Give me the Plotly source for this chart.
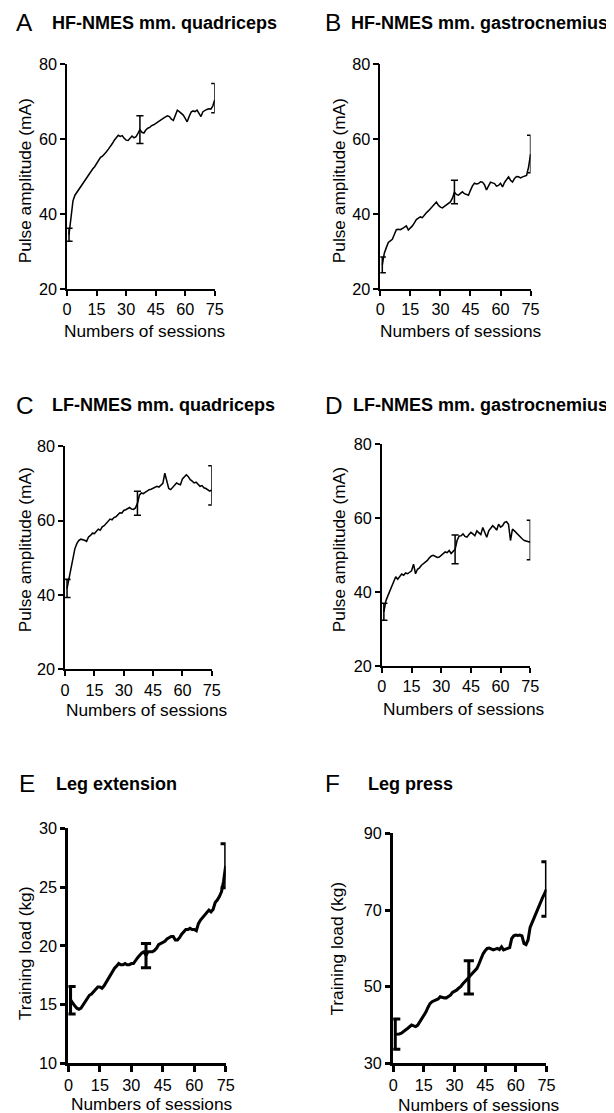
import plotly.graph_objects as go

# ---------------- data ----------------
sessions = list(range(1, 76))
x_tickvals = [0, 15, 30, 45, 60, 75]
pulse_ticks = [20, 40, 60, 80]
ext_ticks = [10, 15, 20, 25, 30]
press_ticks = [30, 50, 70, 90]
err_sessions = [1, 37, 75]

hf_quad = [34.5, 39.5, 43.5, 45.0, 45.8, 46.5, 47.3, 48.0, 48.7, 49.8,
           50.6, 51.2, 52.0, 52.6, 53.4, 54.5, 55.1, 55.4, 55.9, 56.6,
           57.3, 57.9, 58.8, 59.7, 60.4, 61.0, 60.7, 60.9, 60.2, 59.7,
           59.6, 60.1, 60.8, 60.3, 60.6, 61.5, 62.5, 61.8, 61.6, 62.4,
           62.9, 63.1, 63.6, 63.8, 64.2, 64.4, 64.9, 65.4, 65.6, 65.9,
           66.2, 66.0, 65.3, 65.0, 66.6, 67.7, 67.3, 66.8, 66.4, 65.5,
           64.6, 66.0, 67.2, 67.5, 67.3, 67.7, 66.8, 66.0, 67.3, 67.7,
           67.9, 68.1, 68.0, 68.8, 70.5]
hf_quad_plus = [1.7, 3.7, 4.3]
hf_quad_minus = [1.8, 3.7, 3.5]

hf_gast = [26.4, 29.5, 31.0, 32.4, 32.8, 33.2, 34.5, 35.8, 35.9, 35.8,
           36.1, 36.5, 36.8, 35.7, 36.2, 36.8, 37.6, 38.5, 38.9, 39.2,
           39.0, 39.8, 40.3, 40.8, 41.4, 42.1, 42.8, 43.2, 42.3, 41.8,
           41.6, 42.0, 42.3, 42.8, 43.2, 44.2, 45.8, 45.2, 45.0, 45.5,
           45.9, 45.4, 45.2, 45.0, 46.3, 47.5, 48.2, 48.0, 48.1, 48.6,
           48.5, 47.8, 46.4, 47.5, 48.5, 48.3, 48.1, 47.4, 47.6, 48.2,
           47.2, 48.4, 49.3, 49.9, 49.0, 48.5, 49.5, 50.0, 49.9, 49.6,
           49.9, 50.1, 50.3, 52.5, 56.0]
hf_gast_plus = [2.1, 3.2, 5.0]
hf_gast_minus = [2.1, 3.1, 5.0]

lf_quad = [41.7, 44.5, 47.0, 50.0, 52.4, 53.8, 54.6, 55.0, 54.9, 54.7,
           54.4, 55.6, 56.0, 56.6, 56.5, 57.2, 57.7, 57.4, 58.3, 58.6,
           59.2, 59.8, 60.4, 60.2, 60.8, 61.0, 61.7, 62.1, 62.0, 62.7,
           62.9, 63.2, 63.5, 63.1, 63.0, 63.4, 64.6, 66.8, 67.4, 67.2,
           67.6, 67.9, 68.3, 68.4, 68.7, 68.9, 69.2, 69.0, 69.6, 70.0,
           72.7, 70.5, 68.6, 68.3, 68.9, 69.4, 70.1, 69.8, 69.6, 71.2,
           71.9, 72.3, 71.8, 71.0, 70.6, 70.1, 70.3, 69.6, 69.2, 69.4,
           68.8, 68.6, 68.3, 67.9, 68.2]
lf_quad_plus = [2.5, 3.3, 6.5]
lf_quad_minus = [2.4, 3.2, 4.0]

lf_gast = [34.7, 37.6, 39.0, 40.2, 41.3, 42.8, 44.2, 43.5, 44.3, 44.9,
           44.6, 45.2, 45.0, 45.5, 45.8, 47.6, 45.0, 46.2, 46.6, 47.3,
           47.7, 48.3, 48.6, 49.3, 49.8, 50.0, 49.6, 49.4, 49.5, 49.9,
           50.4, 50.9, 50.7, 51.3, 50.5, 51.2, 51.6, 54.0, 55.2, 55.3,
           55.8, 55.1, 54.9, 55.6, 56.2, 55.8, 55.3, 56.6, 56.0, 55.6,
           57.5, 56.2, 54.9, 56.6, 57.3, 58.0, 57.5, 56.8, 58.4, 57.6,
           58.0, 58.9, 59.1, 58.4, 54.0, 57.1, 56.6, 56.0, 55.3, 54.8,
           54.4, 54.0, 53.8, 53.6, 53.5]
lf_gast_plus = [2.3, 3.9, 6.0]
lf_gast_minus = [2.3, 3.9, 4.7]

leg_ext = [15.4, 15.1, 14.9, 14.7, 14.6, 14.7, 15.0, 15.3, 15.6, 15.8,
           15.9, 16.1, 16.3, 16.5, 16.5, 16.4, 16.6, 16.9, 17.3, 17.5,
           17.8, 18.1, 18.3, 18.5, 18.4, 18.4, 18.5, 18.4, 18.4, 18.5,
           18.5, 18.8, 19.0, 19.2, 19.4, 19.5, 19.2, 19.5, 19.5, 19.5,
           19.6, 19.8, 20.1, 20.2, 20.3, 20.4, 20.6, 20.7, 20.8, 20.8,
           20.5, 20.5, 20.7, 21.0, 21.2, 21.4, 21.4, 21.5, 21.4, 21.4,
           21.3, 21.9, 22.2, 22.4, 22.6, 22.8, 23.05, 22.9, 23.1, 23.7,
           23.9, 24.2, 24.6, 25.5, 26.8]
leg_ext_plus = [1.15, 1.0, 1.9]
leg_ext_minus = [1.2, 1.05, 1.85]

leg_press = [37.6, 37.6, 37.7, 37.9, 38.4, 38.7, 39.1, 39.6, 40.0, 39.8,
             39.6, 40.0, 40.8, 41.6, 42.5, 43.4, 44.6, 45.6, 46.1, 46.3,
             46.4, 46.8, 47.4, 47.2, 47.1, 47.1, 47.5, 47.8, 48.5, 48.7,
             49.1, 49.6, 50.0, 50.7, 51.2, 51.7, 52.4, 53.1, 53.7, 54.3,
             54.8, 56.0, 57.5, 58.6, 59.4, 60.0, 60.1, 59.9, 59.6, 59.8,
             60.0, 59.7, 60.4, 59.6, 59.7, 60.0, 60.2, 62.6, 63.3, 63.5,
             63.4, 63.5, 63.3, 61.3, 61.0, 62.2, 65.5, 66.8, 68.1, 69.4,
             70.5, 72.2, 73.1, 74.2, 75.5]
leg_press_plus = [4.0, 4.4, 7.1]
leg_press_minus = [3.9, 4.3, 7.1]

# ---------------- layout helpers ----------------
# observed mapping of figure pixels onto the photographed picture:
#   picture = S * (figure + offset)
S = 0.984
OX, OY = 8.0, 15.4
W, H = 616, 1116
FONT = "Liberation Sans, Arial, Helvetica, sans-serif"


def fx(t):            # target picture x -> paper fraction
    return (t / S - OX) / W


def fy(t):            # target picture y -> paper fraction
    return 1 - (t / S - OY) / H


def fs(size):         # target picture size -> figure size
    return size / S


panels = [
    dict(letter="A", title="HF-NMES mm. quadriceps", ytitle="Pulse amplitude (mA)",
         y=hf_quad, plus=hf_quad_plus, minus=hf_quad_minus, yticks=pulse_ticks,
         box=(62.3, 211, 62.3, 287), lw=1.5, capw=3.5, clip=False,
         letter_pos=(9, 21), title_pos=(45, 21), xt_pos=(141, 329), yt_pos=(19.5, 179)),
    dict(letter="B", title="HF-NMES mm. gastrocnemius", ytitle="Pulse amplitude (mA)",
         y=hf_gast, plus=hf_gast_plus, minus=hf_gast_minus, yticks=pulse_ticks,
         box=(377.7, 529, 62.3, 287), lw=1.5, capw=3.5, clip=True,
         letter_pos=(320, 21), title_pos=(346, 21), xt_pos=(458.5, 329), yt_pos=(335.5, 179)),
    dict(letter="C", title="LF-NMES mm. quadriceps", ytitle="Pulse amplitude (mA)",
         y=lf_quad, plus=lf_quad_plus, minus=lf_quad_minus, yticks=pulse_ticks,
         box=(60.3, 208, 444.3, 667.7), lw=1.5, capw=3.5, clip=False,
         letter_pos=(9, 404), title_pos=(45, 403), xt_pos=(143, 708), yt_pos=(19.5, 548)),
    dict(letter="D", title="LF-NMES mm. gastrocnemius", ytitle="Pulse amplitude (mA)",
         y=lf_gast, plus=lf_gast_plus, minus=lf_gast_minus, yticks=pulse_ticks,
         box=(379.3, 528.7, 442.7, 664.3), lw=1.5, capw=3.5, clip=True,
         letter_pos=(320, 404), title_pos=(348, 403), xt_pos=(462, 707), yt_pos=(335.5, 548)),
    dict(letter="E", title="Leg extension", ytitle="Training load (kg)",
         y=leg_ext, plus=leg_ext_plus, minus=leg_ext_minus, yticks=ext_ticks,
         box=(63.7, 222, 826.7, 1061.7), lw=3, capw=5, clip=True,
         letter_pos=(12, 782), title_pos=(49, 782), xt_pos=(148, 1102), yt_pos=(19.5, 952)),
    dict(letter="F", title="Leg press", ytitle="Training load (kg)",
         y=leg_press, plus=leg_press_plus, minus=leg_press_minus, yticks=press_ticks,
         box=(390.7, 545, 831.7, 1061.7), lw=3, capw=5, clip=True,
         letter_pos=(320, 782), title_pos=(363, 782), xt_pos=(477, 1103), yt_pos=(334, 947)),
]

fig = go.Figure()
annotations = []
layout_axes = {}

for i, p in enumerate(panels):
    n = "" if i == 0 else str(i + 1)
    xa, ya = "x" + n, "y" + n
    x0, x1, yt, yb = p["box"]
    lw = fs(p["lw"])
    fig.add_trace(go.Scatter(
        x=sessions, y=p["y"], mode="lines", xaxis=xa, yaxis=ya,
        line=dict(color="black", width=lw), showlegend=False, hoverinfo="skip"))
    ey = [p["y"][s - 1] for s in err_sessions]
    fig.add_trace(go.Scatter(
        x=err_sessions, y=ey, mode="markers", xaxis=xa, yaxis=ya,
        marker=dict(size=1, color="rgba(0,0,0,0)"), showlegend=False,
        cliponaxis=p["clip"], hoverinfo="skip",
        error_y=dict(type="data", symmetric=False, array=p["plus"], arrayminus=p["minus"],
                     color="black", thickness=lw, width=fs(p["capw"]))))
    yt_vals = p["yticks"]
    common = dict(showline=True, linecolor="black", linewidth=lw, ticks="outside",
                  ticklen=fs(5), tickwidth=lw, tickcolor="black", showgrid=False,
                  zeroline=False, tickfont=dict(family=FONT, size=fs(16), color="black"),
                  fixedrange=True, tickmode="array")
    layout_axes["xaxis" + n] = dict(
        domain=[fx(x0), fx(x1)], anchor=ya, range=[0, 75],
        tickvals=x_tickvals, ticktext=[str(v) for v in x_tickvals], **common)
    layout_axes["yaxis" + n] = dict(
        domain=[fy(yb), fy(yt)], anchor=xa, range=[yt_vals[0], yt_vals[-1]],
        tickvals=yt_vals, ticktext=[str(v) for v in yt_vals], **common)

    lx, ly = p["letter_pos"]
    annotations.append(dict(text=p["letter"], x=fx(lx), y=fy(ly), xref="paper", yref="paper",
                            xanchor="left", yanchor="middle", showarrow=False,
                            font=dict(family=FONT, size=fs(24), color="black")))
    tx, ty = p["title_pos"]
    annotations.append(dict(text="<b>" + p["title"] + "</b>", x=fx(tx), y=fy(ty),
                            xref="paper", yref="paper", xanchor="left", yanchor="middle",
                            showarrow=False, font=dict(family=FONT, size=18.0, color="black")))
    xx, xy = p["xt_pos"]
    annotations.append(dict(text="Numbers of sessions", x=fx(xx), y=fy(xy),
                            xref="paper", yref="paper", xanchor="center", yanchor="middle",
                            showarrow=False, font=dict(family=FONT, size=fs(17), color="black")))
    yx, yy = p["yt_pos"]
    annotations.append(dict(text=p["ytitle"], x=fx(yx), y=fy(yy), textangle=-90,
                            xref="paper", yref="paper", xanchor="center", yanchor="middle",
                            showarrow=False, font=dict(family=FONT, size=fs(17), color="black")))

fig.update_layout(
    width=W, height=H, autosize=False,
    margin=dict(l=0, r=0, t=0, b=0),
    paper_bgcolor="white", plot_bgcolor="white",
    annotations=annotations,
    font=dict(family=FONT, color="black"),
    **layout_axes)

fig.write_html("out.html")
